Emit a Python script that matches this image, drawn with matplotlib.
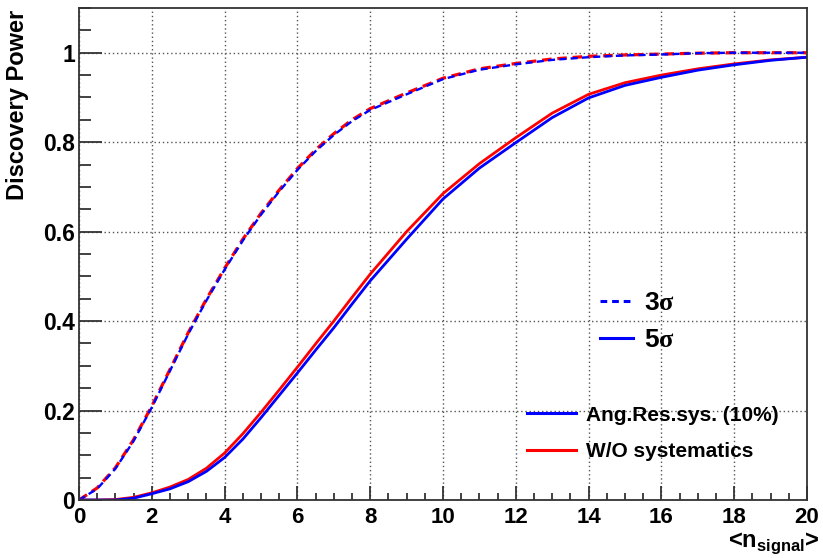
import matplotlib
matplotlib.use('Agg')
from matplotlib import pyplot as plt
from matplotlib.lines import Line2D
from matplotlib.ticker import MultipleLocator

plt.rcParams['font.family'] = ['Liberation Sans', 'DejaVu Sans']
plt.rcParams['font.weight'] = 'bold'
plt.rcParams['mathtext.fontset'] = 'custom'
plt.rcParams['mathtext.rm'] = 'Liberation Serif'
plt.rcParams['mathtext.bf'] = 'Liberation Sans:bold'

# mean number of signal events
n_signal = [0, 0.5, 1, 1.5, 2, 2.5, 3, 3.5, 4, 4.5, 5, 5.5, 6, 6.5, 7, 7.5, 8,
            9, 10, 11, 12, 13, 14, 15, 16, 17, 18, 19, 20]

# 3 sigma discovery power
p3_nosys = [0, 0.027, 0.072, 0.135, 0.210, 0.292, 0.374, 0.449, 0.518, 0.583,
            0.641, 0.693, 0.741, 0.783, 0.819, 0.850, 0.875,
            0.910, 0.943, 0.964, 0.976, 0.986, 0.992, 0.995, 0.997, 0.999, 1.0, 1.0, 1.0]
p3_angres = [0, 0.025, 0.070, 0.132, 0.207, 0.289, 0.371, 0.446, 0.515, 0.580,
             0.638, 0.690, 0.738, 0.780, 0.816, 0.847, 0.872,
             0.907, 0.941, 0.962, 0.974, 0.984, 0.990, 0.994, 0.996, 0.999, 1.0, 1.0, 1.0]

# 5 sigma discovery power
p5_nosys = [0, 0, 0.001, 0.006, 0.016, 0.029, 0.046, 0.071, 0.105, 0.148,
            0.196, 0.246, 0.297, 0.349, 0.400, 0.453, 0.505,
            0.600, 0.685, 0.752, 0.810, 0.865, 0.907, 0.933, 0.950, 0.964, 0.975, 0.984, 0.990]
p5_angres = [0, 0, 0, 0.004, 0.014, 0.025, 0.041, 0.064, 0.095, 0.136,
             0.184, 0.234, 0.284, 0.335, 0.385, 0.438, 0.490,
             0.583, 0.673, 0.742, 0.799, 0.855, 0.899, 0.927, 0.945, 0.961, 0.973, 0.983, 0.990]

fig = plt.figure(figsize=(8.23, 5.58), dpi=100)
ax = fig.add_axes([79 / 823, 58 / 558, 728 / 823, 492 / 558])

lw = 2.0
dash = (3, 1.8)
ax.plot(n_signal, p3_nosys, color='#ff0000', lw=2.3, dashes=dash)
ax.plot(n_signal, p3_angres, color='#0000ff', lw=1.7, dashes=dash)
ax.plot(n_signal, p5_nosys, color='#ff0000', lw=lw)
ax.plot(n_signal, p5_angres, color='#0000ff', lw=lw)

ax.set_xlim(0, 20)
ax.set_ylim(0, 1.1)
ax.xaxis.set_major_locator(MultipleLocator(2))
ax.xaxis.set_minor_locator(MultipleLocator(0.5))
ax.yaxis.set_major_locator(MultipleLocator(0.2))
ax.yaxis.set_minor_locator(MultipleLocator(0.05))
ax.set_yticks([0, 0.2, 0.4, 0.6, 0.8, 1.0])
ax.set_yticklabels(['0', '0.2', '0.4', '0.6', '0.8', '1'])

ax.tick_params(axis='both', which='both', direction='in', width=1.3, color='#333333')
ax.tick_params(axis='x', which='major', length=10, labelsize=16, pad=5)
ax.tick_params(axis='x', which='minor', length=5)
ax.tick_params(axis='y', which='major', length=16.5, labelsize=16.5, pad=3)
ax.tick_params(axis='y', which='minor', length=8.5)
for s in ax.spines.values():
    s.set_linewidth(1.3)
    s.set_color('#333333')

ax.grid(True, which='major', color='#555555', linestyle=(0, (1, 2)), linewidth=1.0)

ax.set_ylabel('Discovery Power', fontsize=17, fontweight='bold')
ax.yaxis.set_label_coords(-0.068, 0.997)
ax.yaxis.label.set_horizontalalignment('right')
ax.set_xlabel(r'<n$_{\mathbf{signal}}$>', fontsize=17, fontweight='bold')
ax.xaxis.set_label_coords(1.017, -0.062)
ax.xaxis.label.set_horizontalalignment('right')
ax.xaxis.label.set_verticalalignment('top')

# significance legend
sig_handles = [Line2D([], [], color='#0000ff', lw=2.2, dashes=(2.2, 1.6)),
               Line2D([], [], color='#0000ff', lw=2.2)]
leg1 = ax.legend(sig_handles, [r'3$\mathrm{\sigma}$', r'5$\mathrm{\sigma}$'],
                 loc='center left', bbox_to_anchor=(0.716, 0.363), frameon=False,
                 fontsize=19, handlelength=1.25, handletextpad=0.42,
                 labelspacing=0.5, borderpad=0, borderaxespad=0)
ax.add_artist(leg1)

# systematics legend
sys_handles = [Line2D([], [], color='#0000ff', lw=2.2),
               Line2D([], [], color='#ff0000', lw=2.2)]
ax.legend(sys_handles, ['Ang.Res.sys. (10%)', 'W/O systematics'],
          loc='center left', bbox_to_anchor=(0.615, 0.135), frameon=False,
          fontsize=15, handlelength=2.35, handletextpad=0.5,
          labelspacing=0.85, borderpad=0, borderaxespad=0)

plt.savefig('out.png', dpi=100)
